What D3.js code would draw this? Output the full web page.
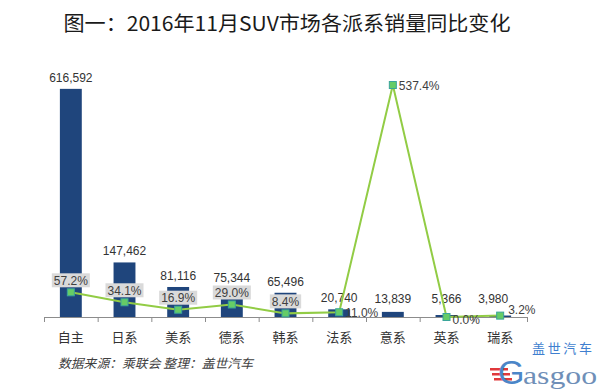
<!DOCTYPE html>
<html><head><meta charset="utf-8">
<script src="https://cdn.jsdelivr.net/npm/d3@7"></script>
<style>
html,body{margin:0;padding:0;background:#fff;}
svg{display:block;}
</style></head>
<body>
<svg id="c" width="600" height="392"></svg>
<script>
const title = "图一：2016年11月SUV市场各派系销量同比变化";
const categories = ["自主","日系","美系","德系","韩系","法系","意系","英系","瑞系"];
const sales = [616592,147462,81116,75344,65496,20740,13839,5366,3980];
const yoy = [57.2,34.1,16.9,29.0,8.4,11.0,537.4,0.0,3.2];
const source = "数据来源：乘联会  整理：盖世汽车";

const svg = d3.select("#c");
const x = d3.scaleBand().domain(categories).range([44,527]).padding(0);
const yL = d3.scaleLinear().domain([0,700000]).range([317,58]);
const yR = d3.scaleLinear().domain([0,600]).range([317,58]);
const bw = x.bandwidth()/2.45;
const cx = c => x(c) + x.bandwidth()/2;
const fmt = d3.format(",");
const sans = "'Liberation Sans', Arial, sans-serif";
const cjk = "'Noto Sans CJK SC', sans-serif";

// title
svg.append("text").attr("x",287).attr("y",31).attr("text-anchor","middle")
  .attr("font-family",cjk).attr("font-size",20).attr("font-weight",400)
  .attr("fill","#1a1a1a").attr("textLength",447).attr("lengthAdjust","spacingAndGlyphs").text(title);

// bars
svg.append("g").selectAll("rect").data(categories).join("rect")
  .attr("x",c=>cx(c)-bw/2).attr("width",bw)
  .attr("y",(c,i)=>yL(sales[i])).attr("height",(c,i)=>yL(0)-yL(sales[i]))
  .attr("fill","#1f457c");

// axis
const ax = svg.append("g").attr("transform","translate(0,317)")
  .call(d3.axisBottom(x).tickSize(0).tickPadding(16));
ax.select(".domain").remove();
ax.selectAll("text").attr("font-family",cjk).attr("font-size",13).attr("fill","#333");
const edges = categories.map(c=>x(c)).concat([x.range()[1]]);
svg.append("line").attr("x1",44).attr("x2",527).attr("y1",317.5).attr("y2",317.5)
  .attr("stroke","#8c8c8c").attr("stroke-width",1.2);
svg.append("g").selectAll("line").data(edges).join("line")
  .attr("x1",d=>d+0.5).attr("x2",d=>d+0.5).attr("y1",317).attr("y2",322)
  .attr("stroke","#8c8c8c");

// bar value labels
svg.append("g").selectAll("text").data(categories).join("text")
  .attr("x",(c,i)=>cx(c)-(i===8?7:0)).attr("y",(c,i)=>Math.min(yL(sales[i])-7,303))
  .attr("text-anchor","middle").attr("font-family",sans).attr("font-size",12)
  .attr("fill","#333").text((c,i)=>fmt(sales[i]));

// line
const line = d3.line().x((d,i)=>cx(categories[i])).y(d=>yR(d));
svg.append("path").datum(yoy).attr("d",line).attr("fill","none")
  .attr("stroke","#92cc45").attr("stroke-width",2);

// pct labels
const lg = svg.append("g");
yoy.forEach((v,i)=>{
  const px = cx(categories[i]), py = yR(v);
  const label = v.toFixed(1)+"%";
  if (i < 5) {
    const ty = py - 12;
    const t = lg.append("text").attr("x",px).attr("y",ty+4.5).attr("text-anchor","middle")
      .attr("font-family",sans).attr("font-size",12).attr("fill","#404040").text(label);
    const w = t.node().getComputedTextLength();
    lg.insert("rect","text").attr("x",px-w/2-2).attr("y",ty-7).attr("width",w+4).attr("height",14)
      .attr("fill","#dadada");
  } else {
    let dx = 6, dy = 4.5;
    if (i === 7) { dx = 6; dy = 7; }
    if (i === 8) { dx = 8; dy = -2; }
    lg.append("text").attr("x",px+dx).attr("y",py+dy)
      .attr("font-family",sans).attr("font-size",12).attr("fill","#404040").text(label);
  }
});

// markers
svg.append("g").selectAll("rect").data(yoy).join("rect")
  .attr("x",(d,i)=>cx(categories[i])-3.5).attr("y",d=>yR(d)-3.5)
  .attr("width",7).attr("height",7).attr("fill","#66cc66").attr("stroke","#3aa59a").attr("stroke-width",1);

// source
svg.append("text").attr("x",58).attr("y",368).attr("font-family",cjk)
  .attr("font-size",12.5).attr("font-style","italic").attr("fill","#404040")
  .attr("textLength",195).attr("lengthAdjust","spacingAndGlyphs").text(source);

// logo
const logo = svg.append("g");
logo.append("text").attr("x",532).attr("y",353).attr("font-family",cjk).attr("font-size",13)
  .attr("fill","#3f7fcf").attr("textLength",60).attr("lengthAdjust","spacing").text("盖世汽车");
[0,1,2].forEach(k=>{
  logo.append("rect").attr("x",490+k*2).attr("y",368+k*5).attr("width",18).attr("height",2.5).attr("fill","#e0393b");
});
logo.append("text").attr("x",498).attr("y",384).attr("font-family",sans).attr("font-size",34)
  .attr("fill","#4b86c8").text("G");
logo.append("text").attr("x",523).attr("y",384).attr("font-family","'Liberation Serif', serif").attr("font-size",26)
  .attr("fill","#6f8fb8").attr("textLength",74).attr("lengthAdjust","spacingAndGlyphs").text("asgoo");
</script>
</body></html>
